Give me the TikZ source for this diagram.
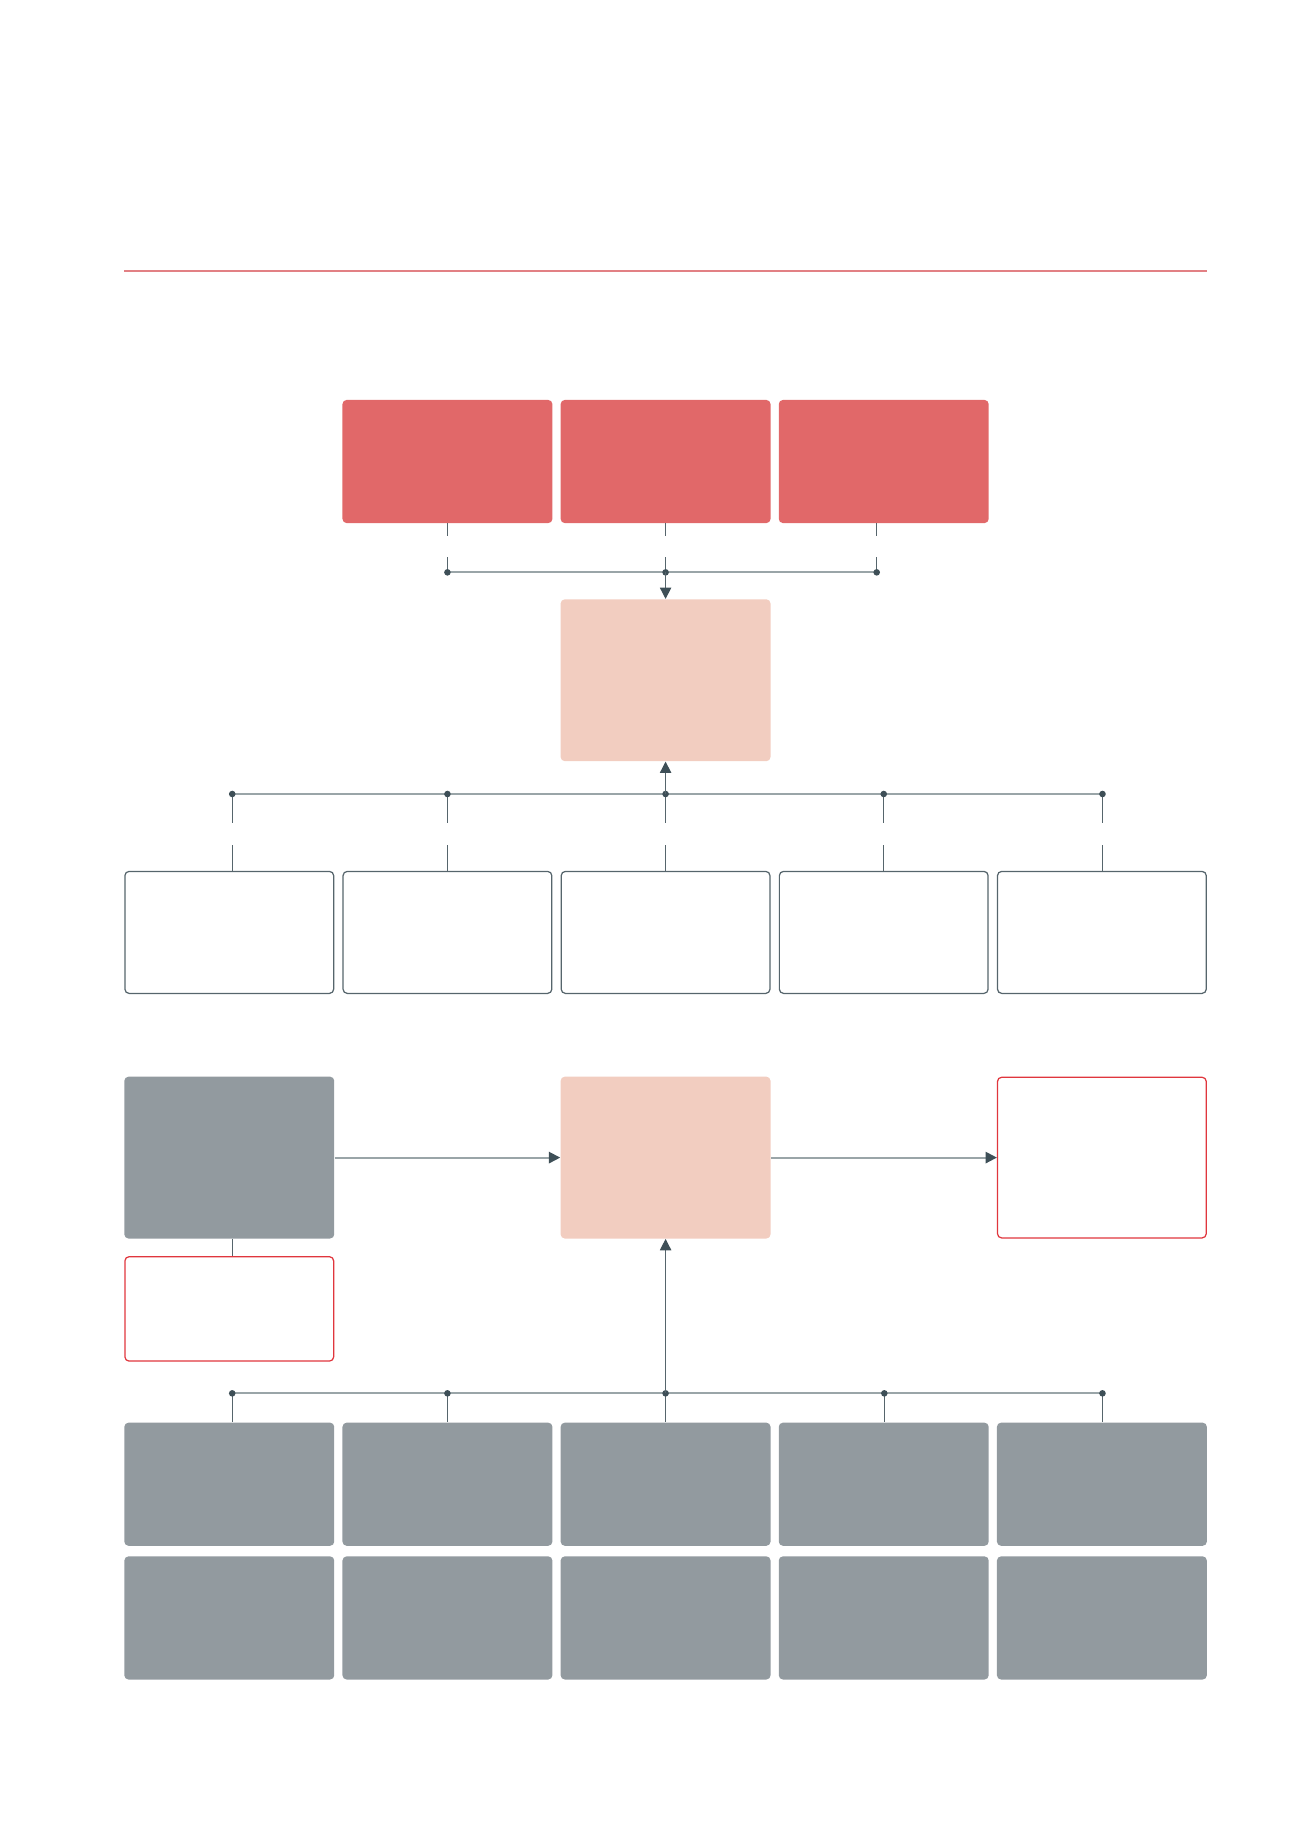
\documentclass[tikz,border=0pt]{standalone}
\usetikzlibrary{arrows.meta}

\definecolor{boxred}{HTML}{E16869}
\definecolor{boxpink}{HTML}{F2CDC0}
\definecolor{boxgrey}{HTML}{929A9F}
\definecolor{linegrey}{HTML}{9AA5A8}
\definecolor{stubgrey}{HTML}{56656C}
\definecolor{darkslate}{HTML}{3E4F57}
\definecolor{outred}{HTML}{E0363D}
\definecolor{rulered}{HTML}{E28084}

\begin{document}
\begin{tikzpicture}[x=0.02cm, y=-0.02cm,
    box/.style={rectangle, rounded corners=2pt, inner sep=0pt,
                minimum width=3.58cm, minimum height=2.1cm},
    redbox/.style={box, fill=boxred},
    greybox/.style={box, fill=boxgrey},
    pinkbox/.style={box, fill=boxpink, minimum height=2.76cm},
    whitebox/.style={box, draw=stubgrey, line width=0.6pt,
                     minimum width=3.56cm, minimum height=2.08cm},
    redout/.style={box, draw=outred, line width=0.6pt, minimum width=3.56cm},
    hline/.style={draw=linegrey, line width=1pt},
    stub/.style={draw=stubgrey, line width=0.5pt},
    arr/.style={line width=0.9pt, -{Triangle[length=5.5pt, width=5.5pt, color=darkslate]}},
    junction/.style={circle, fill=darkslate, inner sep=0pt, minimum size=3.2pt}]

\useasboundingbox (0,0) rectangle (1108,1568);

%% riga rossa in alto
\draw[rulered, line width=0.7pt] (106,231) -- (1029,231);

%% === BLOCCO SUPERIORE ===
\node[redbox] (r1) at (381.5,393.5) {};
\node[redbox] (r2) at (567.5,393.5) {};
\node[redbox] (r3) at (753.5,393.5) {};
\node[pinkbox] (p1) at (567.5,580) {};

\coordinate (t1) at (381.5,488);
\coordinate (t2) at (567.5,488);
\coordinate (t3) at (747.5,488);

\draw[hline] (t1) -- (t3);
\foreach \i in {1,2,3} {
    \draw[stub] (t\i |- r\i.south) -- ++(0,11);
    \draw[stub] (t\i) -- ++(0,-13);
    \node[junction] at (t\i) {};
}
\draw[arr, stubgrey, line width=0.6pt] (t2) -- (p1.north);

%% === FILA DI CASELLE BIANCHE ===
\foreach \c/\x in {0/195.5,1/381.5,2/567.5,3/753.5,4/939.5}
    \node[whitebox] (w\c) at (\x,795) {};

\foreach \c/\x in {0/198,1/381.5,2/567.5,3/753.5,4/940}
    \coordinate (m\c) at (\x,677);

\draw[hline] (m0) -- (m4);
\foreach \c in {0,...,4} {
    \draw[stub] (m\c) -- ++(0,25);
    \draw[stub] (m\c |- w\c.north) -- ++(0,-22);
    \node[junction] at (m\c) {};
}
\draw[arr, stubgrey, line width=0.6pt] (m2) -- (p1.south);

%% === BLOCCO INFERIORE ===
\node[greybox, minimum height=2.76cm] (g) at (195.5,987) {};
\node[pinkbox] (p2) at (567.5,987) {};
\node[redout, minimum height=2.74cm] (o) at (939.5,987) {};
\node[redout, minimum height=1.78cm] (n) at (195.5,1116) {};

\draw[arr, linegrey] (g.east) -- (p2.west);
\draw[arr, linegrey] (p2.east) -- (o.west);

%% due file di caselle grigie
\foreach \c/\x in {0/195.5,1/381.5,2/567.5,3/753.5,4/939.5} {
    \node[greybox] (ga\c) at (\x,1265.5) {};
    \node[greybox] (gb\c) at (\x,1379.5) {};
}

\foreach \c/\x in {0/198,1/381.5,2/567.5,3/754,4/940}
    \coordinate (b\c) at (\x,1188);

\draw[stub] (b0 |- g.south) -- (b0 |- n.north);

\draw[hline] (b0) -- (b4);
\foreach \c in {0,...,4} {
    \draw[stub] (b\c) -- (b\c |- ga\c.north);
    \node[junction] at (b\c) {};
}
\draw[arr, stubgrey, line width=0.6pt] (b2) -- (p2.south);

\end{tikzpicture}
\end{document}
